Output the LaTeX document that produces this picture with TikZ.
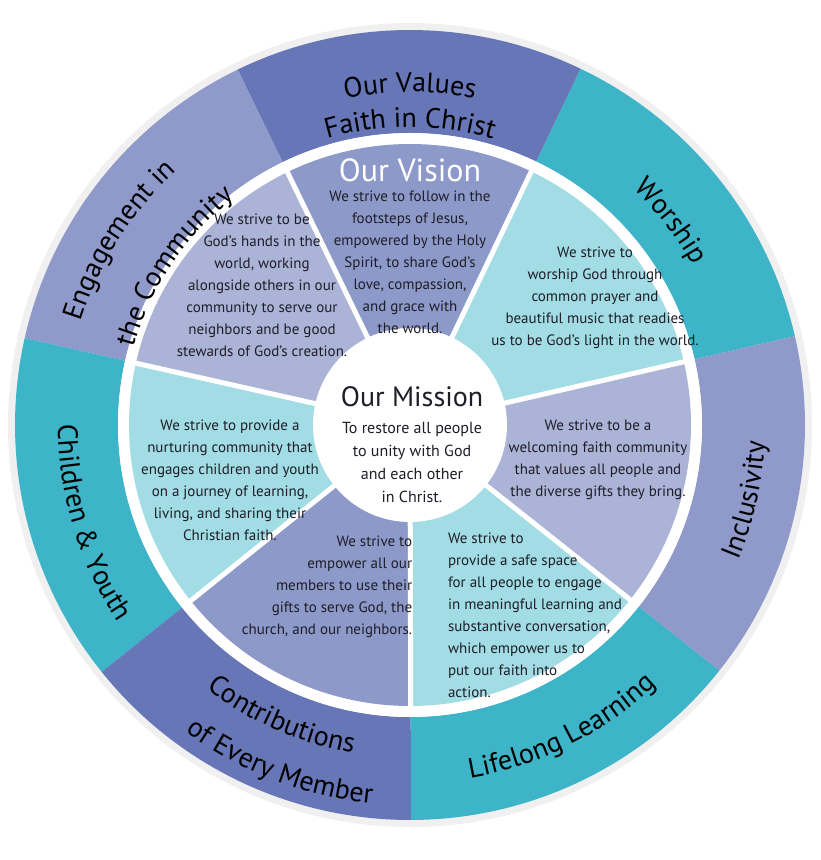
\documentclass[tikz,border=0pt]{standalone}
\usepackage{fontspec}
\setmainfont{PT Sans}
\usetikzlibrary{decorations.text}

\definecolor{ringdark}{HTML}{6676B6}
\definecolor{ringteal}{HTML}{3DB4C7}
\definecolor{ringlav}{HTML}{8F9ACB}
\definecolor{piemid}{HTML}{8D99C9}
\definecolor{pielav}{HTML}{ABB3D6}
\definecolor{piecyan}{HTML}{A2DCE4}
\definecolor{inktext}{HTML}{1E1E28}

\newcommand\ringfont{\fontsize{28}{30}\selectfont}
\newcommand\cwtext[3]{\path[decorate,decoration={text along path,text align=center,text={|\ringfont|#3}}] (c) ++({#1+45}:#2) arc[start angle={#1+45},end angle={#1-45},radius=#2];}
\newcommand\ccwtext[3]{\path[decorate,decoration={text along path,text align=center,text={|\ringfont|#3}}] (c) ++({#1-45}:#2) arc[start angle={#1-45},end angle={#1+45},radius=#2];}

\tikzset{
  pietext/.style={text=inktext,font=\fontsize{15}{22}\selectfont,align=center,inner sep=0pt},
  title/.style={text=inktext,inner sep=0pt}
}

\begin{document}
\begin{tikzpicture}[x=1pt,y=1pt]
\useasboundingbox (0,0) rectangle (820,860);
\coordinate (c) at (410,435);

% outer ring
\fill[white!94!black] (c) circle[radius=402];
\foreach \a/\col in {13/ringteal,64.43/ringdark,115.86/ringlav,167.29/ringteal,218.71/ringdark,270.14/ringteal,321.57/ringlav}
  \fill[\col] (c) ++(\a:395) arc[start angle=\a,delta angle=51.43,radius=395] -- ++({\a+51.43}:-103) arc[start angle={\a+51.43},delta angle=-51.43,radius=292] -- cycle;
\fill[white] (c) circle[radius=292];

% pie segments
\foreach \a/\col in {13/piecyan,64.43/piemid,115.86/pielav,167.29/piecyan,218.71/piemid,270.14/piecyan,321.57/pielav}
  \fill[\col] (c) -- ++(\a:281) arc[start angle=\a,delta angle=51.43,radius=281] -- cycle;
\foreach \a in {13,64.43,115.86,167.29,218.71,270.14,321.57}
  \draw[white,line width=5pt] (c) -- ++(\a:285);
\fill[white] (c) circle[radius=97];

% ring labels
\cwtext{90}{333}{Our Values}
\cwtext{90}{298}{Faith in Christ}
\cwtext{38}{325}{Worship}
\ccwtext{-12.6}{355}{Inclusivity}
\ccwtext{-63.4}{358}{Lifelong Learning}
\ccwtext{246.2}{333}{Contributions}
\ccwtext{249}{380}{of Every Member}
\ccwtext{197}{352}{Children {\&} Youth}
\cwtext{147.6}{345}{Engagement in}
\cwtext{146}{287}{the Community}

% vision and mission
\node[title,font=\fontsize{32}{34}\selectfont,text=white] (vision) at (410,690) {Our Vision};
\node[title,font=\fontsize{28}{30}\selectfont] (mission) at (412,463) {Our Mission};
\node[pietext,font=\fontsize{16}{23}\selectfont] (missiontext) at (412,398) {To restore all people\\to unity with God\\and each other\\in Christ.};

% segment texts
\node[pietext] (visiontext) at (410,598) {We strive to follow in the\\footsteps of Jesus,\\empowered by the Holy\\Spirit, to share God's\\love, compassion,\\and grace with\\the world.};
\node[pietext] (worshiptext) at (595,562) {We strive to\\worship God through\\common prayer and\\beautiful music that readies\\us to be God's light in the world.};
\node[pietext] (inclusivetext) at (598,400) {We strive to be a\\welcoming faith community\\that values all people and\\the diverse gifts they bring.};
\node[pietext,align=left] (learningtext) at (535,245) {We strive to\\provide a safe space\\for all people to engage\\in meaningful learning and\\substantive conversation,\\which empower us to\\put our faith into\\action.};
\node[pietext,align=right] (membertext) at (327,273) {We strive to\\empower all our\\members to use their\\gifts to serve God, the\\church, and our neighbors.};
\node[pietext] (childrentext) at (230,380) {We strive to provide a\\nurturing community that\\engages children and youth\\on a journey of learning,\\living, and sharing their\\Christian faith.};
\node[pietext] (communitytext) at (262,575) {We strive to be\\God's hands in the\\world, working\\alongside others in our\\community to serve our\\neighbors and be good\\stewards of God's creation.};
\end{tikzpicture}
\end{document}
